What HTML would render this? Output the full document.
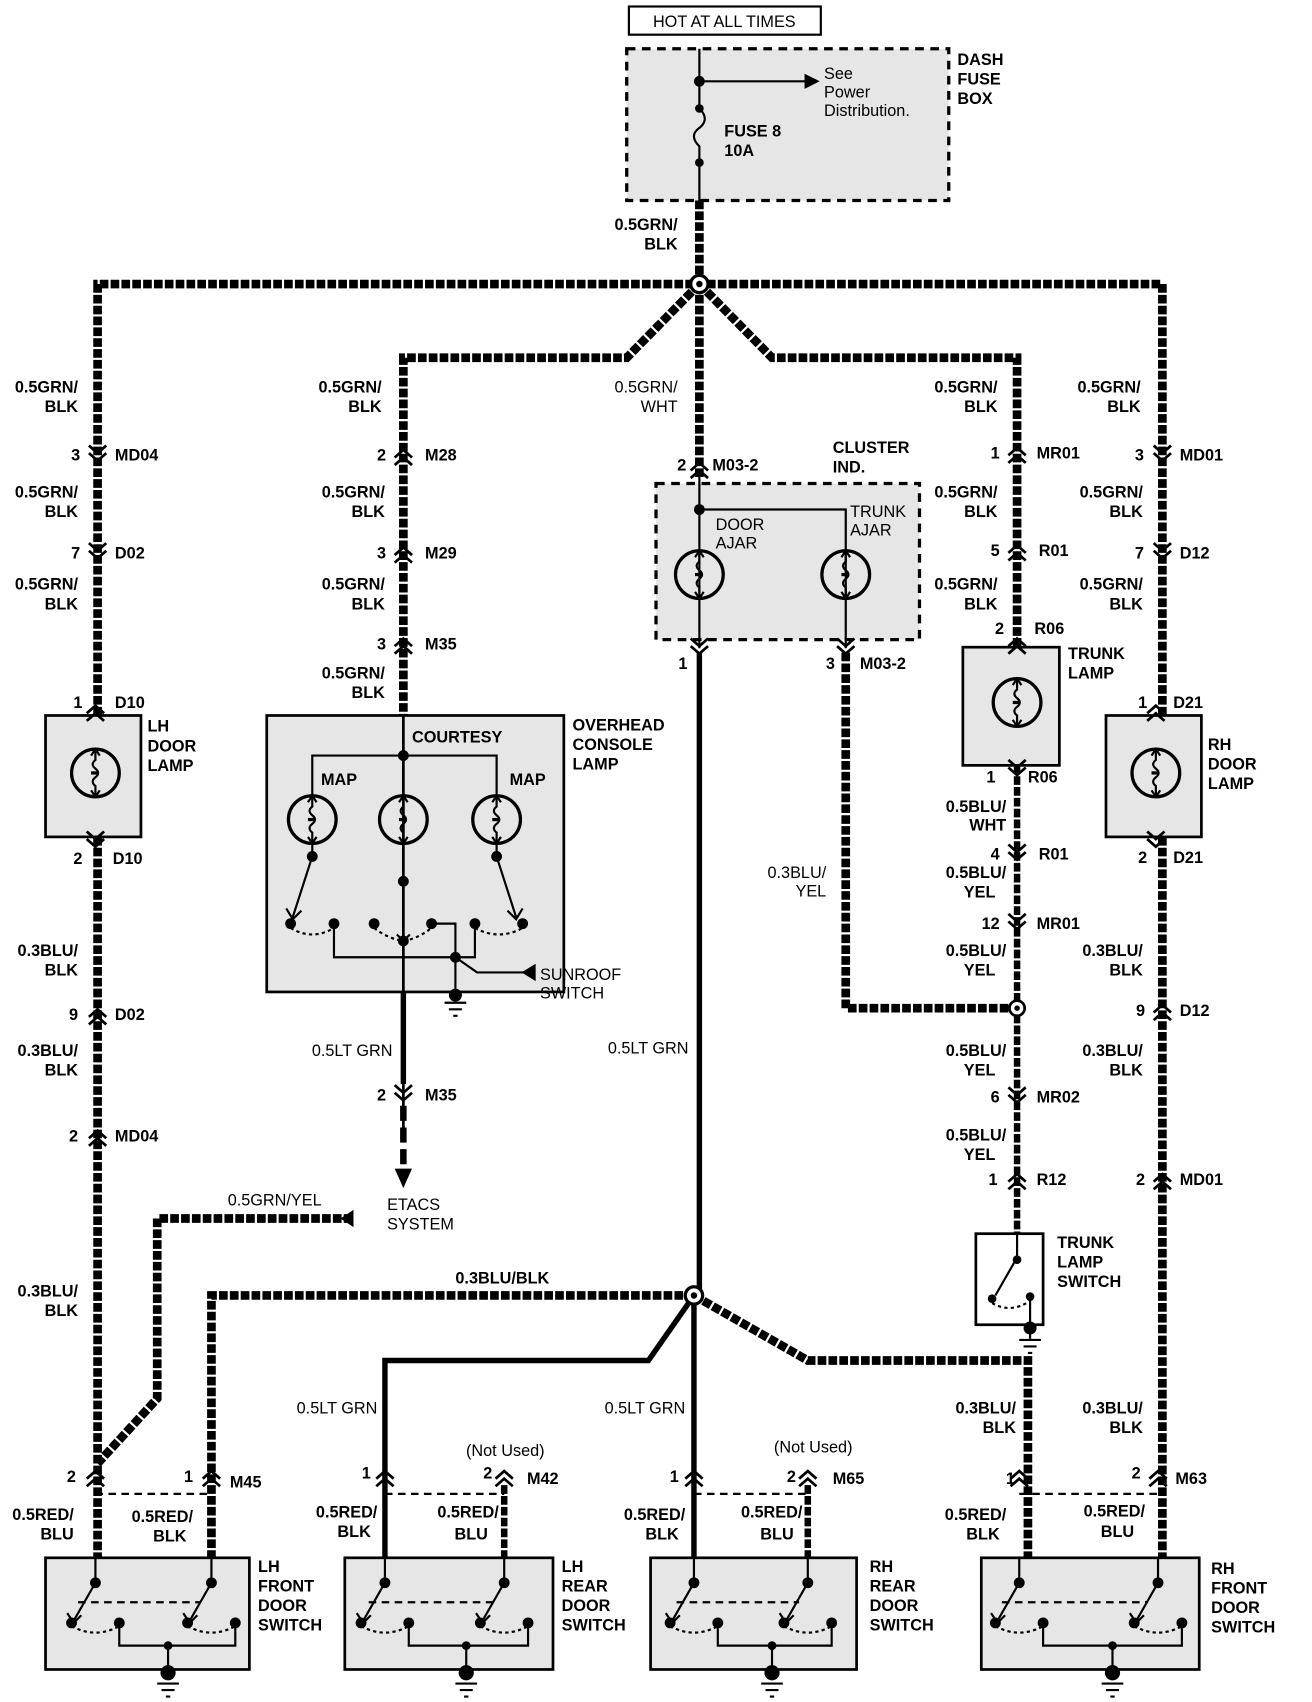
<!DOCTYPE html>
<html><head><meta charset="utf-8"><style>
html,body{margin:0;padding:0;background:#fff}
svg{display:block}
text{font-family:"Liberation Sans Narrow","Liberation Sans",sans-serif;font-weight:bold;font-size:15px;fill:#000}
.n{font-weight:normal}
.w{fill:none;stroke:#000;stroke-width:8;stroke-dasharray:8 2}
.s{fill:none;stroke:#000;stroke-width:5}
.t{fill:none;stroke:#000;stroke-width:2}
.box{fill:#e6e6e6;stroke:#000;stroke-width:2.5}
.db{fill:#e6e6e6;stroke:#000;stroke-width:3;stroke-dasharray:8 6}
</style></head><body>
<svg width="1312" height="1702" viewBox="0 0 1210 1570" preserveAspectRatio="none" xmlns="http://www.w3.org/2000/svg">
<defs>
<g id="cd"><path d="M-8 -9 L0 -2 L8 -9 M-8 -2 L0 5 L8 -2" fill="none" stroke="#000" stroke-width="2.5"/></g>
<g id="cu"><path d="M-8 9 L0 2 L8 9 M-8 2 L0 -5 L8 2" fill="none" stroke="#000" stroke-width="2.5"/></g>
<g id="lamp"><circle r="22" fill="none" stroke="#000" stroke-width="3"/><path d="M0 -22 L0 -12 Q-5 -8 0 -4 Q5 0 0 4 Q-5 8 0 12 L0 22" fill="none" stroke="#000" stroke-width="2"/><path d="M-4 -16 L0 -22 L4 -16 M-4 16 L0 22 L4 16" fill="none" stroke="#000" stroke-width="2"/><path d="M-4 0 h6" stroke="#000" stroke-width="3"/></g>
<g id="gnd"><path d="M-10 0 h20 M-6 6 h12 M-2 12 h4" stroke="#000" stroke-width="2"/></g>
<g id="sw"><circle cx="0" cy="1460" r="5"/><path d="M0 1437 V1460 L-20 1495" class="t"/><path d="M-26 1488 L-20 1497 L-13 1490" class="t"/><circle cx="-22" cy="1497" r="5"/><circle cx="22" cy="1497" r="5"/><path d="M-22 1500 Q0 1512 22 1500" fill="none" stroke="#000" stroke-width="2" stroke-dasharray="3 3"/></g>
</defs>

<rect x="580" y="6" width="177" height="26" fill="#fff" stroke="#000" stroke-width="2"/>
<text x="668" y="25" text-anchor="middle" class="n">HOT AT ALL TIMES</text>
<rect x="578" y="45" width="297" height="140" class="db"/>
<path d="M645 45 V100 Q655 110 645 118 Q635 125 645 135 V185" class="t"/>
<circle cx="645" cy="75" r="5"/><circle cx="645" cy="100" r="4"/><circle cx="645" cy="150" r="4"/>
<path d="M645 75 H745" class="t"/><path d="M742 68 L756 75 L742 82Z"/>
<text x="760" y="73" class="n">See</text><text x="760" y="90" class="n">Power</text><text x="760" y="107" class="n">Distribution.</text>
<text x="668" y="126">FUSE 8</text><text x="668" y="144">10A</text>
<text x="883" y="60">DASH</text><text x="883" y="78">FUSE</text><text x="883" y="96">BOX</text>
<path d="M645 185 V262" class="w"/>
<text x="625" y="212" text-anchor="end">0.5GRN/</text><text x="625" y="230" text-anchor="end">BLK</text>

<path d="M90 1440 V262 H1072 V1440" class="w"/>
<path d="M645 262 L578 330 H372 V660" class="w"/>
<path d="M645 262 L712 330 H938 V597" class="w"/>
<path d="M645 262 V440" class="w"/>
<circle cx="645" cy="262" r="8" fill="#fff" stroke="#000" stroke-width="3"/><circle cx="645" cy="262" r="3"/>

<text x="72" y="362" text-anchor="end">0.5GRN/</text><text x="72" y="380" text-anchor="end">BLK</text>
<use href="#cd" x="90" y="420"/><text x="74" y="425" text-anchor="end">3</text><text x="106" y="425">MD04</text>
<text x="72" y="459" text-anchor="end">0.5GRN/</text><text x="72" y="477" text-anchor="end">BLK</text>
<use href="#cd" x="90" y="510"/><text x="74" y="515" text-anchor="end">7</text><text x="106" y="515">D02</text>
<text x="72" y="544" text-anchor="end">0.5GRN/</text><text x="72" y="562" text-anchor="end">BLK</text>
<text x="76" y="653" text-anchor="end">1</text><text x="106" y="653">D10</text>
<rect x="42" y="660" width="88" height="112" class="box"/>
<use href="#cu" x="88" y="656"/><use href="#lamp" x="88" y="713"/><use href="#cd" x="88" y="776"/>
<text x="136" y="675">LH</text><text x="136" y="693">DOOR</text><text x="136" y="711">LAMP</text>
<text x="76" y="797" text-anchor="end">2</text><text x="104" y="797">D10</text>
<text x="72" y="882" text-anchor="end">0.3BLU/</text><text x="72" y="900" text-anchor="end">BLK</text>
<use href="#cu" x="90" y="936"/><text x="72" y="941" text-anchor="end">9</text><text x="106" y="941">D02</text>
<text x="72" y="974" text-anchor="end">0.3BLU/</text><text x="72" y="992" text-anchor="end">BLK</text>
<use href="#cu" x="90" y="1048"/><text x="72" y="1053" text-anchor="end">2</text><text x="106" y="1053">MD04</text>
<text x="72" y="1196" text-anchor="end">0.3BLU/</text><text x="72" y="1214" text-anchor="end">BLK</text>

<text x="352" y="362" text-anchor="end">0.5GRN/</text><text x="352" y="380" text-anchor="end">BLK</text>
<use href="#cu" x="372" y="420"/><text x="356" y="425" text-anchor="end">2</text><text x="392" y="425">M28</text>
<text x="355" y="459" text-anchor="end">0.5GRN/</text><text x="355" y="477" text-anchor="end">BLK</text>
<use href="#cu" x="372" y="510"/><text x="356" y="515" text-anchor="end">3</text><text x="392" y="515">M29</text>
<text x="355" y="544" text-anchor="end">0.5GRN/</text><text x="355" y="562" text-anchor="end">BLK</text>
<use href="#cu" x="372" y="594"/><text x="356" y="599" text-anchor="end">3</text><text x="392" y="599">M35</text>
<text x="355" y="626" text-anchor="end">0.5GRN/</text><text x="355" y="644" text-anchor="end">BLK</text>
<rect x="246" y="660" width="274" height="255" class="box"/>
<text x="380" y="685">COURTESY</text>
<text x="528" y="674">OVERHEAD</text><text x="528" y="692">CONSOLE</text><text x="528" y="710">LAMP</text>
<path d="M372 660 V1040" class="t" style="stroke-width:2.5"/>
<path d="M288 734 V697 H458 V734" class="t"/><circle cx="372" cy="697" r="5"/>
<text x="296" y="724">MAP</text><text x="470" y="724">MAP</text>
<use href="#lamp" x="288" y="756"/><use href="#lamp" x="372" y="756"/><use href="#lamp" x="458" y="756"/>
<path d="M288 778 V790 L270 846 M458 778 V790 L476 846 M372 778 V855" class="t"/>
<circle cx="288" cy="790" r="5"/><circle cx="372" cy="813" r="5"/><circle cx="458" cy="790" r="5"/>
<path d="M264 838 L270 848 L278 840 M482 838 L476 848 L468 840 M366 862 L372 868 L378 862" class="t"/>
<circle cx="268" cy="852" r="5"/><circle cx="308" cy="852" r="5"/><circle cx="345" cy="852" r="5"/><circle cx="398" cy="852" r="5"/><circle cx="438" cy="852" r="5"/><circle cx="482" cy="852" r="5"/><circle cx="372" cy="868" r="5"/>
<path d="M268 856 Q288 868 308 856 M345 856 Q358 866 372 868 Q385 866 398 856 M438 856 Q460 868 482 856" fill="none" stroke="#000" stroke-width="2" stroke-dasharray="3 3"/>
<path d="M308 852 V883 H438 V852 M398 852 H420 V915 M420 883 L440 897 H485" class="t"/>
<circle cx="420" cy="883" r="5"/>
<path d="M482 889 L495 897 L482 905Z" transform="rotate(180 488 897)"/>
<text x="498" y="904" class="n">SUNROOF</text><text x="498" y="921" class="n">SWITCH</text>
<circle cx="420" cy="918" r="6"/><use href="#gnd" x="420" y="925"/>
<path d="M372 915 V1000" class="s"/>
<text x="362" y="974" text-anchor="end" class="n">0.5LT GRN</text>
<use href="#cd" x="372" y="1010"/><text x="356" y="1015" text-anchor="end">2</text><text x="392" y="1015">M35</text>
<path d="M372 1020 V1080" class="s" style="stroke-width:6;stroke-dasharray:14 6"/>
<path d="M364 1078 L372 1096 L380 1078Z"/>
<text x="357" y="1116" class="n">ETACS</text><text x="357" y="1134" class="n">SYSTEM</text>
<path d="M325 1124 H145 V1290 L90 1350" class="w"/><path d="M326 1116 L314 1124 L326 1132Z"/>
<text x="210" y="1112" class="n">0.5GRN/YEL</text>

<text x="625" y="362" text-anchor="end" class="n">0.5GRN/</text><text x="625" y="380" text-anchor="end" class="n">WHT</text>
<use href="#cu" x="645" y="432"/><text x="633" y="434" text-anchor="end">2</text><text x="657" y="434">M03-2</text>
<text x="768" y="418">CLUSTER</text><text x="768" y="436">IND.</text>
<rect x="605" y="446" width="243" height="144" class="db"/>
<path d="M645 440 V598 M645 470 H780 V598" class="t"/><circle cx="645" cy="470" r="5"/>
<use href="#lamp" x="645" y="530"/><use href="#lamp" x="780" y="530"/>
<text x="660" y="489" class="n">DOOR</text><text x="660" y="506" class="n">AJAR</text>
<text x="784" y="477" class="n">TRUNK</text><text x="784" y="494" class="n">AJAR</text>
<use href="#cd" x="645" y="598"/><use href="#cd" x="780" y="598"/>
<text x="634" y="617" text-anchor="end">1</text><text x="770" y="617" text-anchor="end">3</text><text x="793" y="617">M03-2</text>
<path d="M645 602 V1195" class="s"/>
<text x="635" y="972" text-anchor="end" class="n">0.5LT GRN</text>
<path d="M780 602 V930 H938" class="w"/>
<text x="762" y="810" text-anchor="end" class="n">0.3BLU/</text><text x="762" y="827" text-anchor="end" class="n">YEL</text>

<text x="920" y="362" text-anchor="end">0.5GRN/</text><text x="920" y="380" text-anchor="end">BLK</text>
<use href="#cu" x="938" y="418"/><text x="922" y="423" text-anchor="end">1</text><text x="956" y="423">MR01</text>
<text x="920" y="459" text-anchor="end">0.5GRN/</text><text x="920" y="477" text-anchor="end">BLK</text>
<use href="#cu" x="938" y="508"/><text x="922" y="513" text-anchor="end">5</text><text x="958" y="513">R01</text>
<text x="920" y="544" text-anchor="end">0.5GRN/</text><text x="920" y="562" text-anchor="end">BLK</text>
<text x="926" y="585" text-anchor="end">2</text><text x="954" y="585">R06</text>
<rect x="888" y="597" width="89" height="109" class="box"/>
<use href="#cu" x="938" y="594"/><use href="#lamp" x="938" y="648"/><use href="#cd" x="938" y="710"/>
<text x="985" y="608">TRUNK</text><text x="985" y="626">LAMP</text>
<text x="918" y="722" text-anchor="end">1</text><text x="948" y="722">R06</text>
<path d="M938 706 V1138" class="w" style="stroke-width:6"/>
<text x="928" y="749" text-anchor="end">0.5BLU/</text><text x="928" y="766" text-anchor="end">WHT</text>
<use href="#cd" x="938" y="788"/><text x="922" y="793" text-anchor="end">4</text><text x="958" y="793">R01</text>
<text x="928" y="810" text-anchor="end">0.5BLU/</text><text x="918" y="828" text-anchor="end">YEL</text>
<use href="#cd" x="938" y="852"/><text x="922" y="857" text-anchor="end">12</text><text x="956" y="857">MR01</text>
<text x="928" y="882" text-anchor="end">0.5BLU/</text><text x="918" y="900" text-anchor="end">YEL</text>
<circle cx="938" cy="930" r="7" fill="#fff" stroke="#000" stroke-width="2.5"/><circle cx="938" cy="930" r="2.5"/>
<text x="928" y="974" text-anchor="end">0.5BLU/</text><text x="918" y="992" text-anchor="end">YEL</text>
<use href="#cd" x="938" y="1012"/><text x="922" y="1017" text-anchor="end">6</text><text x="956" y="1017">MR02</text>
<text x="928" y="1052" text-anchor="end">0.5BLU/</text><text x="918" y="1070" text-anchor="end">YEL</text>
<use href="#cu" x="938" y="1088"/><text x="920" y="1093" text-anchor="end">1</text><text x="956" y="1093">R12</text>
<rect x="900" y="1138" width="62" height="84" fill="#fff" stroke="#000" stroke-width="2.5"/>
<path d="M938 1138 V1160 L918 1195" class="t"/><circle cx="938" cy="1162" r="4"/>
<circle cx="915" cy="1198" r="4"/><circle cx="950" cy="1196" r="4"/>
<path d="M915 1202 Q932 1212 950 1200" fill="none" stroke="#000" stroke-width="2" stroke-dasharray="3 3"/>
<path d="M950 1196 V1235" class="t"/><circle cx="950" cy="1225" r="6"/><use href="#gnd" x="950" y="1236"/>
<text x="975" y="1151">TRUNK</text><text x="975" y="1169">LAMP</text><text x="975" y="1187">SWITCH</text>

<text x="1052" y="362" text-anchor="end">0.5GRN/</text><text x="1052" y="380" text-anchor="end">BLK</text>
<use href="#cd" x="1072" y="420"/><text x="1055" y="425" text-anchor="end">3</text><text x="1088" y="425">MD01</text>
<text x="1054" y="459" text-anchor="end">0.5GRN/</text><text x="1054" y="477" text-anchor="end">BLK</text>
<use href="#cd" x="1072" y="510"/><text x="1055" y="515" text-anchor="end">7</text><text x="1088" y="515">D12</text>
<text x="1054" y="544" text-anchor="end">0.5GRN/</text><text x="1054" y="562" text-anchor="end">BLK</text>
<text x="1058" y="653" text-anchor="end">1</text><text x="1082" y="653">D21</text>
<rect x="1020" y="660" width="88" height="112" class="box"/>
<use href="#cu" x="1066" y="656"/><use href="#lamp" x="1066" y="713"/><use href="#cd" x="1066" y="776"/>
<text x="1114" y="692">RH</text><text x="1114" y="710">DOOR</text><text x="1114" y="728">LAMP</text>
<text x="1058" y="796" text-anchor="end">2</text><text x="1082" y="796">D21</text>
<text x="1054" y="882" text-anchor="end">0.3BLU/</text><text x="1054" y="900" text-anchor="end">BLK</text>
<use href="#cu" x="1072" y="932"/><text x="1056" y="937" text-anchor="end">9</text><text x="1088" y="937">D12</text>
<text x="1054" y="974" text-anchor="end">0.3BLU/</text><text x="1054" y="992" text-anchor="end">BLK</text>
<use href="#cu" x="1072" y="1088"/><text x="1056" y="1093" text-anchor="end">2</text><text x="1088" y="1093">MD01</text>
<text x="1054" y="1304" text-anchor="end">0.3BLU/</text><text x="1054" y="1322" text-anchor="end">BLK</text>

<path d="M640 1195 H195 V1437" class="w"/>
<text x="420" y="1184">0.3BLU/BLK</text>
<path d="M640 1195 L598 1255 H355 V1437" class="s"/>
<path d="M640 1195 V1437" class="s"/>
<path d="M640 1195 L745 1255 H948 V1437" class="w"/>
<circle cx="640" cy="1195" r="8" fill="#fff" stroke="#000" stroke-width="3"/><circle cx="640" cy="1195" r="3"/>
<text x="348" y="1304" text-anchor="end" class="n">0.5LT GRN</text>
<text x="632" y="1304" text-anchor="end" class="n">0.5LT GRN</text>
<text x="937" y="1304" text-anchor="end">0.3BLU/</text><text x="937" y="1322" text-anchor="end">BLK</text>
<path d="M465 1370 V1437 M745 1370 V1437" class="w" style="stroke-width:6"/>

<g>
<use href="#cu" x="88" y="1362"/><use href="#cu" x="195" y="1362"/>
<use href="#cu" x="355" y="1362"/><use href="#cu" x="465" y="1362"/>
<use href="#cu" x="640" y="1362"/><use href="#cu" x="745" y="1362"/>
<use href="#cu" x="940" y="1362"/><use href="#cu" x="1068" y="1362"/>
<path d="M88 1378 H195 M355 1378 H465 M640 1378 H745 M940 1378 H1068" class="t" stroke-dasharray="7 5"/>
</g>
<text x="70" y="1367" text-anchor="end">2</text><text x="178" y="1367" text-anchor="end">1</text><text x="212" y="1372">M45</text>
<text x="342" y="1364" text-anchor="end">1</text><text x="454" y="1364" text-anchor="end">2</text><text x="486" y="1369">M42</text>
<text x="626" y="1367" text-anchor="end">1</text><text x="734" y="1367" text-anchor="end">2</text><text x="768" y="1369">M65</text>
<text x="936" y="1369" text-anchor="end">1</text><text x="1052" y="1364" text-anchor="end">2</text><text x="1084" y="1369">M63</text>
<text x="466" y="1343" text-anchor="middle" class="n">(Not Used)</text>
<text x="750" y="1340" text-anchor="middle" class="n">(Not Used)</text>

<text x="68" y="1402" text-anchor="end">0.5RED/</text><text x="68" y="1420" text-anchor="end">BLU</text>
<text x="178" y="1404" text-anchor="end">0.5RED/</text><text x="172" y="1422" text-anchor="end">BLK</text>
<text x="348" y="1400" text-anchor="end">0.5RED/</text><text x="342" y="1418" text-anchor="end">BLK</text>
<text x="460" y="1400" text-anchor="end">0.5RED/</text><text x="450" y="1420" text-anchor="end">BLU</text>
<text x="632" y="1402" text-anchor="end">0.5RED/</text><text x="626" y="1420" text-anchor="end">BLK</text>
<text x="740" y="1400" text-anchor="end">0.5RED/</text><text x="732" y="1420" text-anchor="end">BLU</text>
<text x="928" y="1402" text-anchor="end">0.5RED/</text><text x="922" y="1420" text-anchor="end">BLK</text>
<text x="1056" y="1399" text-anchor="end">0.5RED/</text><text x="1046" y="1418" text-anchor="end">BLU</text>

<rect x="42" y="1437" width="188" height="103" class="box"/>
<rect x="318" y="1437" width="192" height="103" class="box"/>
<rect x="600" y="1437" width="190" height="103" class="box"/>
<rect x="905" y="1437" width="201" height="103" class="box"/>
<g>
<use href="#sw" x="88"/><use href="#sw" x="195"/>
<use href="#sw" x="355"/><use href="#sw" x="465"/>
<use href="#sw" x="640"/><use href="#sw" x="745"/>
<use href="#sw" x="940"/><use href="#sw" x="1068"/>
<path d="M72 1478 H185 M340 1478 H455 M624 1478 H737 M924 1478 H1058" class="t" stroke-dasharray="7 5"/>
<path d="M110 1497 V1518 H217 V1497 M377 1497 V1518 H487 V1497 M662 1497 V1518 H767 V1497 M962 1497 V1518 H1090 V1497" class="t"/>
<path d="M155 1518 V1542 M430 1518 V1542 M712 1518 V1542 M1026 1518 V1542" class="t"/>
<circle cx="155" cy="1518" r="4"/><circle cx="430" cy="1518" r="4"/><circle cx="712" cy="1518" r="4"/><circle cx="1026" cy="1518" r="4"/>
<circle cx="155" cy="1543" r="7"/><circle cx="430" cy="1543" r="7"/><circle cx="712" cy="1543" r="7"/><circle cx="1026" cy="1543" r="7"/>
<use href="#gnd" x="155" y="1553"/><use href="#gnd" x="430" y="1553"/><use href="#gnd" x="712" y="1553"/><use href="#gnd" x="1026" y="1553"/>
</g>
<text x="238" y="1450">LH</text><text x="238" y="1468">FRONT</text><text x="238" y="1486">DOOR</text><text x="238" y="1504">SWITCH</text>
<text x="518" y="1450">LH</text><text x="518" y="1468">REAR</text><text x="518" y="1486">DOOR</text><text x="518" y="1504">SWITCH</text>
<text x="802" y="1450">RH</text><text x="802" y="1468">REAR</text><text x="802" y="1486">DOOR</text><text x="802" y="1504">SWITCH</text>
<text x="1117" y="1452">RH</text><text x="1117" y="1470">FRONT</text><text x="1117" y="1488">DOOR</text><text x="1117" y="1506">SWITCH</text>
</svg>
</body></html>
